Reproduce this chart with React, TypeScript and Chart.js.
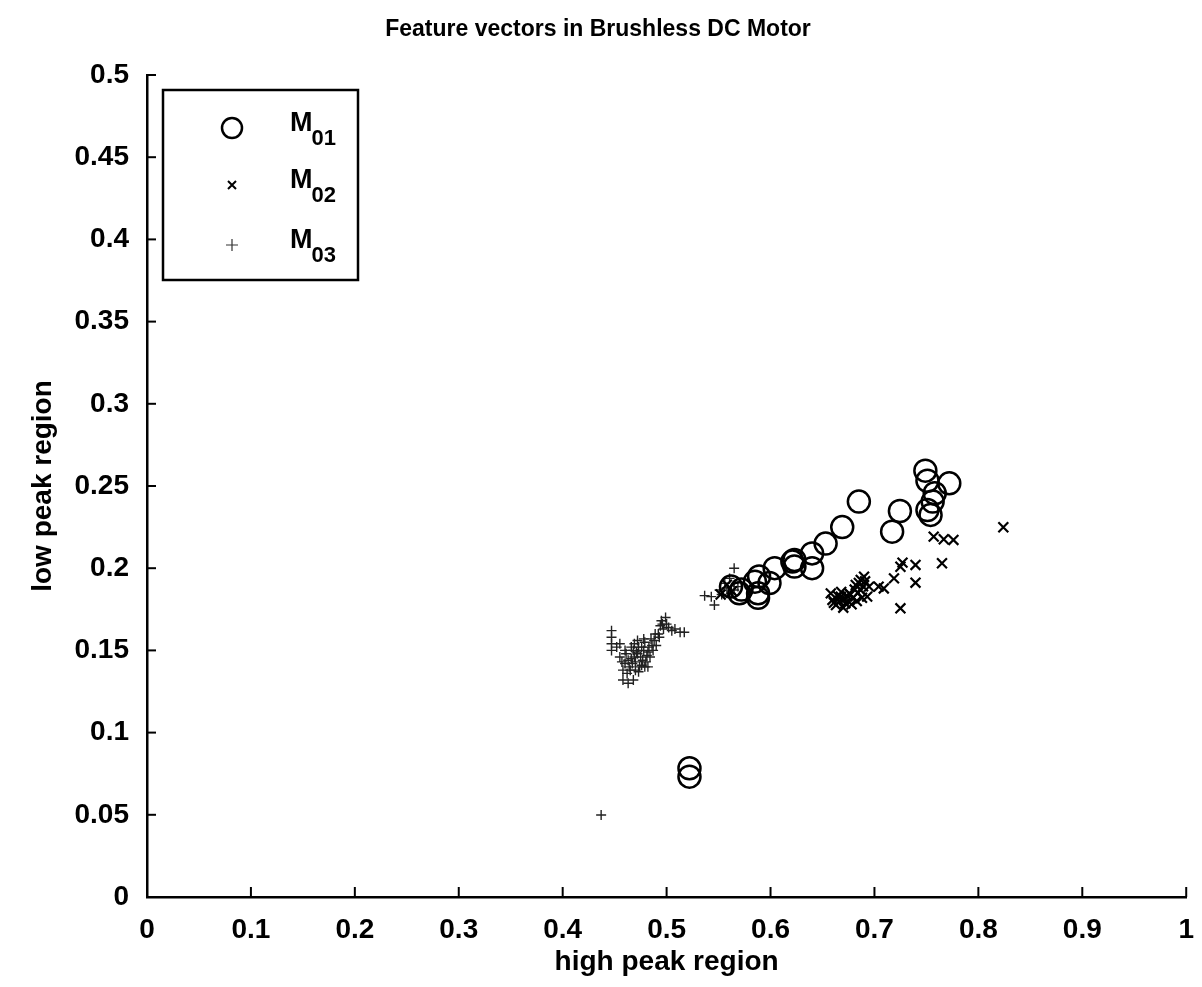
import React, { useEffect, useRef } from "react";
import { Chart, registerables } from "chart.js";

Chart.register(...registerables);

const TITLE = "Feature vectors in Brushless DC Motor";
const X_LABEL = "high peak region";
const Y_LABEL = "low peak region";
const LEGEND_NAMES = ["M", "M", "M"];
const LEGEND_SUBS = ["01", "02", "03"];
const X_TICKS = ["0", "0.1", "0.2", "0.3", "0.4", "0.5", "0.6", "0.7", "0.8", "0.9", "1"];
const Y_TICKS = ["0", "0.05", "0.1", "0.15", "0.2", "0.25", "0.3", "0.35", "0.4", "0.45", "0.5"];

const m01X = [0.522, 0.522, 0.562, 0.570, 0.572, 0.585, 0.588, 0.588, 0.589, 0.599, 0.604, 0.621, 0.623, 0.623, 0.640, 0.640, 0.653, 0.669, 0.685, 0.717, 0.7245, 0.749, 0.751, 0.751, 0.754, 0.756, 0.758, 0.772];
const m01Y = [0.0783, 0.0732, 0.1888, 0.1847, 0.187, 0.1918, 0.1847, 0.182, 0.195, 0.191, 0.200, 0.204, 0.205, 0.201, 0.200, 0.209, 0.215, 0.225, 0.2405, 0.2222, 0.2348, 0.2593, 0.2532, 0.2354, 0.2324, 0.2405, 0.2456, 0.2516];

const m02X = [0.552, 0.558, 0.563, 0.658, 0.6596, 0.663, 0.665, 0.6676, 0.670, 0.672, 0.6756, 0.678, 0.679, 0.682, 0.684, 0.6868, 0.6868, 0.688, 0.690, 0.693, 0.6948, 0.704, 0.709, 0.7188, 0.725, 0.725, 0.727, 0.7395, 0.7395, 0.757, 0.765, 0.7667, 0.776, 0.824, 0.661, 0.666, 0.671, 0.674, 0.677, 0.681, 0.685, 0.689, 0.691, 0.683, 0.668];
const m02Y = [0.184, 0.190, 0.186, 0.1847, 0.1807, 0.1776, 0.183, 0.1827, 0.176, 0.1786, 0.1847, 0.178, 0.1817, 0.1898, 0.185, 0.1928, 0.1867, 0.182, 0.1948, 0.1827, 0.1888, 0.1888, 0.1877, 0.1938, 0.1756, 0.2009, 0.2034, 0.202, 0.1912, 0.2192, 0.203, 0.2176, 0.2172, 0.2249, 0.179, 0.180, 0.181, 0.183, 0.184, 0.187, 0.191, 0.189, 0.192, 0.180, 0.1855];

const m03X = [0.437, 0.447, 0.447, 0.447, 0.447, 0.452, 0.455, 0.455, 0.458, 0.458, 0.460, 0.462, 0.464, 0.466, 0.468, 0.470, 0.472, 0.473, 0.475, 0.476, 0.478, 0.479, 0.481, 0.483, 0.485, 0.487, 0.489, 0.492, 0.494, 0.495, 0.497, 0.499, 0.502, 0.505, 0.513, 0.517, 0.470, 0.468, 0.463, 0.5366, 0.543, 0.546, 0.551, 0.553, 0.556, 0.558, 0.5606, 0.562, 0.565, 0.565, 0.5686,
  0.461, 0.465, 0.467, 0.469, 0.471, 0.474, 0.477, 0.480, 0.482, 0.484, 0.486, 0.473, 0.476, 0.479, 0.466, 0.463, 0.488, 0.490, 0.472, 0.478, 0.457, 0.460, 0.496, 0.500, 0.493, 0.508, 0.482, 0.469];
const m03Y = [0.0499, 0.150, 0.154, 0.158, 0.162, 0.152, 0.154, 0.146, 0.132, 0.138, 0.142, 0.136, 0.140, 0.145, 0.150, 0.143, 0.148, 0.152, 0.146, 0.141, 0.150, 0.155, 0.147, 0.152, 0.157, 0.150, 0.160, 0.160, 0.165, 0.168, 0.163, 0.170, 0.164, 0.162, 0.161, 0.161, 0.138, 0.132, 0.130, 0.1833, 0.1827, 0.1776, 0.1867, 0.184, 0.1908, 0.188, 0.1938, 0.1847, 0.200, 0.1867, 0.1888,
  0.148, 0.138, 0.142, 0.146, 0.149, 0.140, 0.144, 0.143, 0.149, 0.146, 0.153, 0.137, 0.152, 0.140, 0.152, 0.144, 0.156, 0.153, 0.156, 0.157, 0.143, 0.150, 0.166, 0.166, 0.158, 0.163, 0.140, 0.154];

const toPoints = (xs: number[], ys: number[]) => xs.map((x, i) => ({ x, y: ys[i] }));

const FONT = "'Liberation Sans', Arial, sans-serif";

const inwardTicks = {
  id: "inwardTicks",
  afterDraw(chart: any) {
    const { ctx, chartArea, scales } = chart;
    ctx.save();
    ctx.strokeStyle = "#000";
    ctx.lineWidth = 2;
    scales.x.ticks.forEach((t: any) => {
      const px = scales.x.getPixelForValue(t.value);
      ctx.beginPath();
      ctx.moveTo(px, chartArea.bottom);
      ctx.lineTo(px, chartArea.bottom - 10);
      ctx.stroke();
    });
    scales.y.ticks.forEach((t: any) => {
      const py = scales.y.getPixelForValue(t.value);
      ctx.beginPath();
      ctx.moveTo(chartArea.left, py);
      ctx.lineTo(chartArea.left + 9, py);
      ctx.stroke();
    });
    ctx.restore();
  },
};

const customLegend = {
  id: "customLegend",
  afterDraw(chart: any) {
    const { ctx, chartArea } = chart;
    const left = chartArea.left + 16;
    const top = chartArea.top + 15;
    const w = 195;
    const h = 190;
    ctx.save();
    ctx.fillStyle = "#fff";
    ctx.fillRect(left, top, w, h);
    ctx.strokeStyle = "#000";
    ctx.lineWidth = 2.5;
    ctx.strokeRect(left, top, w, h);
    const mx = left + 69;
    const rows = [top + 38, top + 95, top + 155];
    ctx.lineWidth = 2.5;
    ctx.beginPath();
    ctx.arc(mx, rows[0], 10, 0, Math.PI * 2);
    ctx.stroke();
    ctx.lineWidth = 2;
    ctx.beginPath();
    ctx.moveTo(mx - 4, rows[1] - 4);
    ctx.lineTo(mx + 4, rows[1] + 4);
    ctx.moveTo(mx + 4, rows[1] - 4);
    ctx.lineTo(mx - 4, rows[1] + 4);
    ctx.stroke();
    ctx.strokeStyle = "#333";
    ctx.lineWidth = 1.2;
    ctx.beginPath();
    ctx.moveTo(mx - 6, rows[2]);
    ctx.lineTo(mx + 6, rows[2]);
    ctx.moveTo(mx, rows[2] - 6);
    ctx.lineTo(mx, rows[2] + 6);
    ctx.stroke();
    ctx.fillStyle = "#000";
    ctx.textBaseline = "alphabetic";
    ctx.textAlign = "left";
    const tx = left + 127;
    rows.forEach((ry, i) => {
      ctx.font = `bold 27px ${FONT}`;
      ctx.fillText(LEGEND_NAMES[i], tx, ry + 3);
      const mw = ctx.measureText(LEGEND_NAMES[i]).width;
      ctx.font = `bold 22px ${FONT}`;
      ctx.fillText(LEGEND_SUBS[i], tx + mw - 1, ry + 17);
    });
    ctx.restore();
  },
};

export default function App() {
  const canvasRef = useRef<HTMLCanvasElement | null>(null);

  useEffect(() => {
    document.body.style.margin = "0";
    const canvas = canvasRef.current;
    if (!canvas) return;
    const chart = new Chart(canvas, {
      type: "scatter",
      data: {
        datasets: [
          {
            label: "M01",
            data: toPoints(m01X, m01Y),
            pointStyle: "circle",
            pointRadius: 11,
            pointHoverRadius: 11,
            borderColor: "#000",
            backgroundColor: "rgba(0,0,0,0)",
            pointBorderWidth: 2.5,
          },
          {
            label: "M02",
            data: toPoints(m02X, m02Y),
            pointStyle: "crossRot",
            pointRadius: 7,
            pointHoverRadius: 7,
            borderColor: "#000",
            backgroundColor: "#000",
            pointBorderWidth: 2.2,
          },
          {
            label: "M03",
            data: toPoints(m03X, m03Y),
            pointStyle: "cross",
            pointRadius: 5,
            pointHoverRadius: 5,
            borderColor: "#222",
            backgroundColor: "#222",
            pointBorderWidth: 1.4,
          },
        ],
      },
      options: {
        responsive: false,
        animation: false,
        events: [],
        layout: { padding: { top: 0, right: 6, left: 0, bottom: 0 } },
        plugins: {
          legend: { display: false },
          tooltip: { enabled: false },
          title: {
            display: true,
            text: TITLE,
            color: "#000",
            font: { family: FONT, size: 23, weight: "bold" },
            padding: { top: 16, bottom: 31.4 },
          },
        },
        scales: {
          x: {
            type: "linear",
            min: 0,
            max: 1,
            grid: { display: false },
            border: { display: true, color: "#000", width: 2.5 },
            ticks: {
              stepSize: 0.1,
              color: "#000",
              padding: 8,
              maxRotation: 0,
              font: { family: FONT, size: 28, weight: "bold" },
              callback: (_v: any, i: number) => X_TICKS[i],
            },
            title: {
              display: true,
              text: X_LABEL,
              color: "#000",
              font: { family: FONT, size: 28, weight: "bold" },
              padding: { top: 0, bottom: 8 },
            },
            afterFit: (s: any) => {
              s.height = 90;
            },
          },
          y: {
            type: "linear",
            min: 0,
            max: 0.5,
            grid: { display: false },
            border: { display: true, color: "#000", width: 2.5 },
            ticks: {
              stepSize: 0.05,
              color: "#000",
              padding: 10,
              font: { family: FONT, size: 28, weight: "bold" },
              callback: (_v: any, i: number) => Y_TICKS[i],
            },
            title: {
              display: true,
              text: Y_LABEL,
              color: "#000",
              font: { family: FONT, size: 28, weight: "bold" },
              padding: { top: 26, bottom: 0 },
            },
            afterFit: (s: any) => {
              s.width = 147;
            },
          },
        },
      },
      plugins: [inwardTicks, customLegend],
    });
    return () => chart.destroy();
  }, []);

  return (
    <div style={{ width: 1202, height: 987, background: "#fff" }}>
      <canvas ref={canvasRef} width={1202} height={987} />
    </div>
  );
}
